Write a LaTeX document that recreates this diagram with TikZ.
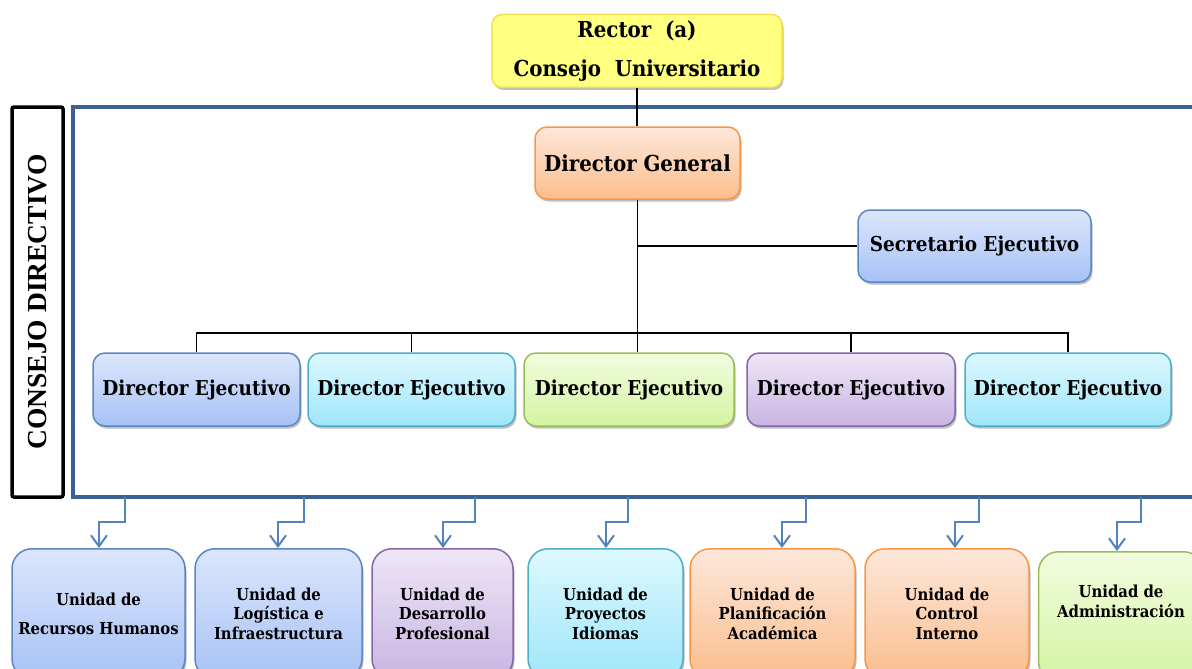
\documentclass[tikz,border=0pt]{standalone}
\usepackage{fontspec}
\setmainfont{DejaVu Serif Condensed}
\newfontfamily\letratimes{Liberation Serif}
\usetikzlibrary{arrows.meta,shadows}

\definecolor{marcoazul}{HTML}{3B6195}
\definecolor{flechaazul}{HTML}{5283C0}
\definecolor{azularriba}{HTML}{DCE6FC}
\definecolor{azulabajo}{HTML}{A7C2F5}
\definecolor{azulborde}{HTML}{5A86C5}
\definecolor{cianarriba}{HTML}{DDF8FF}
\definecolor{cianabajo}{HTML}{9FE6F9}
\definecolor{cianborde}{HTML}{4EADC7}
\definecolor{verdearriba}{HTML}{F2FCDF}
\definecolor{verdeabajo}{HTML}{D3F4A2}
\definecolor{verdeborde}{HTML}{9BBB59}
\definecolor{moradoarriba}{HTML}{EEE6F7}
\definecolor{moradoabajo}{HTML}{C8B5E2}
\definecolor{moradoborde}{HTML}{8566A8}
\definecolor{naranjaarriba}{HTML}{FDE7DA}
\definecolor{naranjaabajo}{HTML}{FBBE8D}
\definecolor{naranjaborde}{HTML}{F79646}
\definecolor{amarillofondo}{HTML}{FFFF80}
\definecolor{amarilloborde}{HTML}{EEE050}

\tikzset{
  caja/.style={draw, rounded corners=12pt, line width=1.5pt, align=center,
    font=\fontsize{20.5}{24}\selectfont\bfseries,
    drop shadow={shadow xshift=1.5pt, shadow yshift=-2.5pt, opacity=0.25, fill=black}},
  unidad/.style={caja, rounded corners=20pt, anchor=north, minimum height=130,
    font=\fontsize{16.5}{19.5}\selectfont\bfseries},
  azul/.style={top color=azularriba, bottom color=azulabajo, draw=azulborde},
  cian/.style={top color=cianarriba, bottom color=cianabajo, draw=cianborde},
  verde/.style={top color=verdearriba, bottom color=verdeabajo, draw=verdeborde},
  morado/.style={top color=moradoarriba, bottom color=moradoabajo, draw=moradoborde},
  naranja/.style={top color=naranjaarriba, bottom color=naranjaabajo, draw=naranjaborde},
  linea/.style={line width=1.8pt, black},
  flecha/.style={line width=2pt, flechaazul, -{Straight Barb[length=11pt,width=16pt]}}
}

\begin{document}
\begin{tikzpicture}[x=1pt,y=-1pt]
  \useasboundingbox (0,0) rectangle (1192,669);
  %marco del consejo directivo
  \draw[marcoazul, line width=3.5pt] (1200,107) -- (73,107) -- (73,497) -- (1200,497);
  \node[draw, line width=3.5pt, rounded corners=2pt, rotate=90, minimum width=390, minimum height=51,
    font=\letratimes\fontsize{27.5}{30}\selectfont\bfseries] (consejo) at (37.5,302) {CONSEJO DIRECTIVO};
  %rector y director general
  \node[caja, fill=amarillofondo, draw=amarilloborde, rounded corners=10pt, minimum width=290, minimum height=73,
    font=\fontsize{22}{24}\selectfont\bfseries] (rector) at (637,51) {Rector\ \ (a)\\[15pt]Consejo\ \ Universitario};
  \node[caja, naranja, minimum width=205, minimum height=72, font=\fontsize{22}{24}\selectfont\bfseries]
    (dg) at (637.5,163) {Director General};
  \node[caja, azul, minimum width=233, minimum height=72] (sec) at (974.5,246) {Secretario Ejecutivo};
  %directores ejecutivos
  \node[caja, azul, minimum width=207, minimum height=73] (ej1) at (196.5,389.5) {Director Ejecutivo};
  \node[caja, cian, minimum width=207, minimum height=73] (ej2) at (411.5,389.5) {Director Ejecutivo};
  \node[caja, verde, minimum width=210, minimum height=73] (ej3) at (629,389.5) {Director Ejecutivo};
  \node[caja, morado, minimum width=208, minimum height=73] (ej4) at (851,389.5) {Director Ejecutivo};
  \node[caja, cian, minimum width=206, minimum height=73] (ej5) at (1068,389.5) {Director Ejecutivo};
  %lineas
  \coordinate (bus) at (637,333);
  \draw[linea] (rector.south) -- (rector.south |- dg.north);
  \draw[linea] (dg.south) -- (dg.south |- ej3.north);
  \draw[linea] (dg.south |- sec.west) -- (sec.west);
  \draw[linea] (ej1.north) |- (bus) -| (ej5.north);
  \draw[linea] (ej2.north) -- (ej2.north |- bus);
  \draw[linea] (ej4.north) -- (ej4.north |- bus);
  %unidades
  \node[unidad, azul, minimum width=173] (u1) at (98.5,548) {Unidad de\\[9pt]Recursos Humanos};
  \node[unidad, azul, minimum width=167] (u2) at (278.5,548) {Unidad de\\Logística e\\Infraestructura};
  \node[unidad, morado, minimum width=141] (u3) at (442.5,548) {Unidad de\\Desarrollo\\Profesional};
  \node[unidad, cian, minimum width=155] (u4) at (605.5,548) {Unidad de\\Proyectos\\Idiomas};
  \node[unidad, naranja, minimum width=165] (u5) at (772.5,548) {Unidad de\\Planificación\\Académica};
  \node[unidad, naranja, minimum width=164] (u6) at (947,548) {Unidad de\\Control\\Interno};
  \node[unidad, verde, minimum width=165] (u7) at (1121,551) {Unidad de\\Administración\\[12pt]\mbox{}};
  %flechas
  \foreach \x [count=\i] in {125,304,475,628,806,979,1141}
    \coordinate (s\i) at (\x,497);
  \foreach \y [count=\i] in {99,278,443,606,782,955,1117}
    \draw[flecha] (s\i) -- ++(0,25) -| (u\i.north -| \y,0);
\end{tikzpicture}
\end{document}
